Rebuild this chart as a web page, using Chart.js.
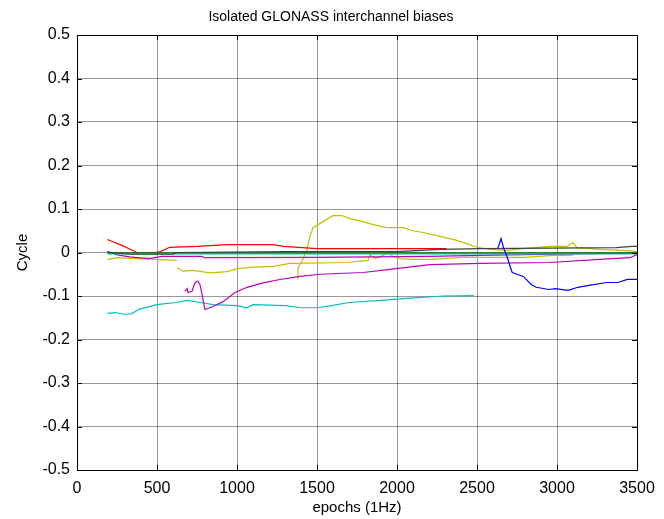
<!DOCTYPE html>
<html>
<head>
<meta charset="utf-8">
<script src="https://cdn.jsdelivr.net/npm/chart.js@4.4.1/dist/chart.umd.min.js"></script>
<style>
html, body { margin: 0; padding: 0; background: #fff; }
</style>
</head>
<body>
<canvas id="chart" width="664" height="519"></canvas>
<script>
// axis ticks
const xTicks = [0, 500, 1000, 1500, 2000, 2500, 3000, 3500];
const xTickLabels = ['0', '500', '1000', '1500', '2000', '2500', '3000', '3500'];
const yTicks = [-0.5, -0.4, -0.3, -0.2, -0.1, 0, 0.1, 0.2, 0.3, 0.4, 0.5];
const yTickLabels = ['-0.5', '-0.4', '-0.3', '-0.2', '-0.1', '0', '0.1', '0.2', '0.3', '0.4', '0.5'];

// series (epoch, cycle)
const blueX = [2630, 2640, 2650, 2665, 2690, 2710, 2720, 2790, 2840, 2870, 2950, 2990, 3070, 3130, 3190, 3310, 3380, 3440, 3500];
const blueY = [0.01, 0.02, 0.032, 0.012, -0.012, -0.035, -0.046, -0.055, -0.074, -0.08, -0.085, -0.083, -0.087, -0.08, -0.076, -0.069, -0.069, -0.062, -0.062];

const greenX = [190, 3500];
const greenY = [-0.001, -0.001];

const redX = [190, 270, 375, 490, 520, 580, 750, 940, 1225, 1290, 1500, 2310];
const redY = [0.03, 0.018, 0.0, 0.0, 0.002, 0.012, 0.014, 0.018, 0.018, 0.014, 0.009, 0.009];

const cyanFlatX = [190, 3500];
const cyanFlatY = [-0.003, -0.003];

const cyanX = [190, 240, 290, 340, 390, 500, 620, 690, 770, 850, 1000, 1060, 1100, 1300, 1400, 1500, 1590, 1700, 1900, 2040, 2290, 2480];
const cyanY = [-0.14, -0.138, -0.142, -0.141, -0.13, -0.12, -0.115, -0.11, -0.115, -0.12, -0.122, -0.127, -0.12, -0.122, -0.127, -0.127, -0.122, -0.115, -0.11, -0.106, -0.1, -0.099];

const magentaX = [190, 260, 330, 450, 530, 780, 800, 1500, 2200, 2600, 3000, 3500];
const magentaY = [0.002, -0.006, -0.01, -0.014, -0.009, -0.009, -0.012, -0.011, -0.009, -0.006, -0.004, -0.001];

const magenta2X = [675, 688, 694, 719, 738, 756, 769, 800, 850, 913, 988, 1063, 1163, 1269, 1394, 1519, 1788, 1956, 2206, 2519, 2956, 3269, 3456, 3500];
const magenta2Y = [-0.089, -0.083, -0.092, -0.089, -0.069, -0.066, -0.074, -0.131, -0.124, -0.113, -0.092, -0.08, -0.07, -0.062, -0.055, -0.05, -0.046, -0.039, -0.028, -0.025, -0.023, -0.016, -0.012, -0.005];

const yellowX = [190, 250, 375, 625];
const yellowY = [-0.016, -0.012, -0.014, -0.018];

const yellow2X = [625, 663, 725, 831, 938, 1000, 1081, 1225, 1331, 1688, 1819, 1831, 1863, 1894, 1944, 1975, 2019, 2100, 2206, 2413, 2788, 2956, 3100];
const yellow2Y = [-0.035, -0.043, -0.041, -0.047, -0.044, -0.037, -0.034, -0.032, -0.025, -0.023, -0.018, -0.005, -0.014, -0.01, 0.0, -0.009, -0.014, -0.016, -0.016, -0.011, -0.011, -0.007, -0.006];

const yellow3X = [1375, 1381, 1406, 1438, 1456, 1475, 1538, 1600, 1656, 1706, 1788, 1850, 1938, 2038, 2100, 2163, 2269, 2375, 2500, 2581, 2688, 2788, 2956, 3063, 3100, 3125, 3269, 3413, 3500];
const yellow3Y = [-0.06, -0.035, -0.02, 0.007, 0.037, 0.057, 0.071, 0.085, 0.085, 0.078, 0.071, 0.064, 0.057, 0.057, 0.05, 0.046, 0.037, 0.028, 0.012, 0.007, 0.005, 0.009, 0.014, 0.014, 0.023, 0.011, 0.007, 0.005, 0.002];

const grayX = [190, 330, 600, 620, 1300, 2000, 2270, 2520, 3370, 3470, 3500];
const grayY = [0.001, -0.004, -0.004, 0.0, 0.002, 0.002, 0.007, 0.009, 0.011, 0.014, 0.014];

const titleText = 'Isolated GLONASS interchannel biases';

function pts(xs, ys) {
    return xs.map((x, i) => ({ x: x, y: ys[i] }));
}

function line(xs, ys, color) {
    return {
        data: pts(xs, ys),
        borderColor: color,
        borderWidth: 1.2,
        pointRadius: 0,
        fill: false,
        tension: 0
    };
}

const font = 'Liberation Sans, Arial, Helvetica, sans-serif';

// black box, inward tick marks and the title, like the matlab axes
const boxPlugin = {
    id: 'box',
    afterDraw(chart) {
        const { ctx, chartArea: a, scales: { x, y } } = chart;
        ctx.save();
        ctx.strokeStyle = '#000';
        ctx.lineWidth = 1;
        ctx.beginPath();
        xTicks.forEach(v => {
            const p = Math.round(x.getPixelForValue(v)) + 0.5;
            ctx.moveTo(p, a.bottom); ctx.lineTo(p, a.bottom - 5);
            ctx.moveTo(p, a.top); ctx.lineTo(p, a.top + 5);
        });
        yTicks.forEach(v => {
            const p = Math.round(y.getPixelForValue(v)) + 0.5;
            ctx.moveTo(a.left, p); ctx.lineTo(a.left + 5, p);
            ctx.moveTo(a.right, p); ctx.lineTo(a.right - 5, p);
        });
        ctx.stroke();
        ctx.strokeRect(Math.round(a.left) + 0.5, Math.round(a.top) + 0.5,
            Math.round(a.right - a.left), Math.round(a.bottom - a.top));

        ctx.fillStyle = '#000';
        ctx.font = '14px ' + font;
        ctx.textAlign = 'center';
        ctx.textBaseline = 'middle';
        ctx.fillText(titleText, 331, 17);
        ctx.restore();
    }
};

new Chart(document.getElementById('chart').getContext('2d'), {
    type: 'line',
    data: {
        datasets: [
            line(blueX, blueY, '#0000ff'),
            line(grayX, grayY, '#404040'),
            line(greenX, greenY, '#008000'),
            line(cyanFlatX, cyanFlatY, '#00bfbf'),
            line(redX, redY, '#ff0000'),
            line(magentaX, magentaY, '#bf00bf'),
            line(magenta2X, magenta2Y, '#bf00bf'),
            line(cyanX, cyanY, '#00bfbf'),
            line(yellowX, yellowY, '#bfbf00'),
            line(yellow2X, yellow2Y, '#bfbf00'),
            line(yellow3X, yellow3Y, '#bfbf00')
        ]
    },
    options: {
        responsive: false,
        animation: false,
        layout: { padding: { left: 0, right: 27, top: 35, bottom: 0 } },
        plugins: {
            legend: { display: false },
            tooltip: { enabled: false },
            title: { display: false }
        },
        scales: {
            x: {
                type: 'linear',
                min: 0,
                max: 3500,
                afterBuildTicks: s => { s.ticks = xTicks.map(v => ({ value: v })); },
                afterFit: s => { s.height = 49; },
                ticks: {
                    color: '#000',
                    font: { family: font, size: 16 },
                    padding: 9,
                    maxRotation: 0,
                    callback: (v, i) => xTickLabels[i]
                },
                grid: { color: 'rgba(0,0,0,0.4)', drawTicks: false },
                border: { display: false },
                title: {
                    display: true,
                    text: 'epochs (1Hz)',
                    color: '#000',
                    font: { family: font, size: 15 },
                    padding: { top: 0, bottom: 2 }
                }
            },
            y: {
                min: -0.5,
                max: 0.5,
                afterBuildTicks: s => { s.ticks = yTicks.map(v => ({ value: v })); },
                afterFit: s => { s.width = 77; },
                ticks: {
                    color: '#000',
                    font: { family: font, size: 16 },
                    padding: 7,
                    callback: (v, i) => yTickLabels[i]
                },
                grid: { color: 'rgba(0,0,0,0.4)', drawTicks: false },
                border: { display: false },
                title: {
                    display: true,
                    text: 'Cycle',
                    color: '#000',
                    font: { family: font, size: 15 },
                    padding: { top: 14, bottom: 0 }
                }
            }
        }
    },
    plugins: [boxPlugin]
});
</script>
</body>
</html>
